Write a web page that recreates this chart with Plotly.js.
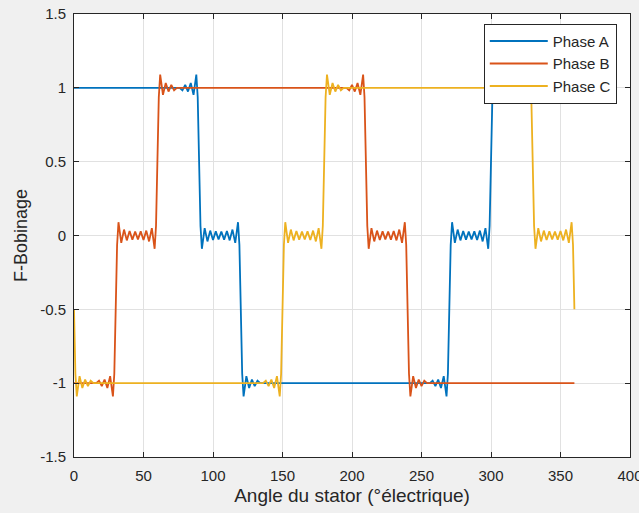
<!DOCTYPE html>
<html>
<head>
<meta charset="utf-8">
<script src="https://cdn.plot.ly/plotly-3.0.1.min.js"></script>
<style>html,body{margin:0;padding:0;background:#f0f0f0;overflow:hidden;}#chart{width:639px;height:513px;}</style>
</head>
<body>
<div id="chart"></div>
<script>
// Phase A (angle in electrical degrees, winding function value)
const angleA = [0, 76,78,80,82,84,86,88,89,90,
  91,92,94,96,98,100,102,104,106,108,110,112,114,116,118,119,120,
  121,122,124,126,128,130,132,134,
  256,258,260,262,264,266,268,269,270,
  271,272,274,276,278,280,282,284,286,288,290,292,294,296,298,299,300,
  301,302,304,306,308,310,312,314,
  360];
const phaseA = [1, 1,0.983,1.02,0.975,1.033,0.952,1.09,0.936,0.5,
  0.064,-0.09,0.05,-0.04,0.033,-0.03,0.028,-0.026,0.026,-0.028,0.03,-0.033,0.04,-0.05,0.09,-0.064,-0.5,
  -0.936,-1.09,-0.952,-1.033,-0.975,-1.02,-0.983,-1,
  -1,-0.983,-1.02,-0.975,-1.033,-0.952,-1.09,-0.936,-0.5,
  -0.064,0.09,-0.05,0.04,-0.033,0.03,-0.028,0.026,-0.026,0.028,-0.03,0.033,-0.04,0.05,-0.09,0.064,0.5,
  0.936,1.09,0.952,1.033,0.975,1.02,0.983,1,
  1];

// Phase B
const angleB = [0, 16,18,20,22,24,26,28,29,30,
  31,32,34,36,38,40,42,44,46,48,50,52,54,56,58,59,60,
  61,62,64,66,68,70,72,74,
  196,198,200,202,204,206,208,209,210,
  211,212,214,216,218,220,222,224,226,228,230,232,234,236,238,239,240,
  241,242,244,246,248,250,252,254,
  360];
const phaseB = [-1, -1,-0.983,-1.02,-0.975,-1.033,-0.952,-1.09,-0.936,-0.5,
  -0.064,0.09,-0.05,0.04,-0.033,0.03,-0.028,0.026,-0.026,0.028,-0.03,0.033,-0.04,0.05,-0.09,0.064,0.5,
  0.936,1.09,0.952,1.033,0.975,1.02,0.983,1,
  1,0.983,1.02,0.975,1.033,0.952,1.09,0.936,0.5,
  0.064,-0.09,0.05,-0.04,0.033,-0.03,0.028,-0.026,0.026,-0.028,0.03,-0.033,0.04,-0.05,0.09,-0.064,-0.5,
  -0.936,-1.09,-0.952,-1.033,-0.975,-1.02,-0.983,-1,
  -1];

// Phase C
const angleC = [0, 1,2,4,6,8,10,12,14,
  136,138,140,142,144,146,148,149,150,
  151,152,154,156,158,160,162,164,166,168,170,172,174,176,178,179,180,
  181,182,184,186,188,190,192,194,
  316,318,320,322,324,326,328,329,330,
  331,332,334,336,338,340,342,344,346,348,350,352,354,356,358,359,360];
const phaseC = [-0.5, -0.936,-1.09,-0.952,-1.033,-0.975,-1.02,-0.983,-1,
  -1,-0.983,-1.02,-0.975,-1.033,-0.952,-1.09,-0.936,-0.5,
  -0.064,0.09,-0.05,0.04,-0.033,0.03,-0.028,0.026,-0.026,0.028,-0.03,0.033,-0.04,0.05,-0.09,0.064,0.5,
  0.936,1.09,0.952,1.033,0.975,1.02,0.983,1,
  1,0.983,1.02,0.975,1.033,0.952,1.09,0.936,0.5,
  0.064,-0.09,0.05,-0.04,0.033,-0.03,0.028,-0.026,0.026,-0.028,0.03,-0.033,0.04,-0.05,0.09,-0.064,-0.5];

const seriesNames = ['Phase A', 'Phase B', 'Phase C'];
const xTickVals = [0, 50, 100, 150, 200, 250, 300, 350, 400];
const xTickText = ['0', '50', '100', '150', '200', '250', '300', '350', '400'];
const yTickVals = [-1.5, -1, -0.5, 0, 0.5, 1, 1.5];
const yTickText = ['-1.5', '-1', '-0.5', '0', '0.5', '1', '1.5'];

const colors = ['#0072BD', '#D95319', '#EDB120'];
const font = 'Liberation Sans, Arial, Helvetica, sans-serif';
const axisColor = '#262626';

const xs = [angleA, angleB, angleC];
const ys = [phaseA, phaseB, phaseC];
const data = seriesNames.map((n, i) => ({
  x: xs[i], y: ys[i], name: n, type: 'scatter', mode: 'lines',
  line: {color: colors[i], width: 1.8}
}));

const axisCommon = {
  ticks: 'inside', ticklen: 5, tickwidth: 1, tickcolor: axisColor,
  showline: true, linecolor: axisColor, linewidth: 1, mirror: 'ticks',
  showgrid: true, gridcolor: '#e1e1e1', gridwidth: 1, zeroline: false,
  tickfont: {family: font, size: 15, color: axisColor}
};

const layout = {
  width: 639, height: 513,
  margin: {l: 74, r: 9, t: 14, b: 56, pad: 0},
  paper_bgcolor: '#f0f0f0', plot_bgcolor: '#ffffff',
  font: {family: font, color: axisColor},
  showlegend: true,
  xaxis: Object.assign({}, axisCommon, {
    range: [0, 400], tickmode: 'array', tickvals: xTickVals, ticktext: xTickText,
    ticklabelstandoff: 5, ticklabeloverflow: 'allow',
    title: {text: 'Angle du stator (°électrique)', font: {family: font, size: 19, color: axisColor}, standoff: 5}
  }),
  yaxis: Object.assign({}, axisCommon, {
    range: [-1.5, 1.5], tickmode: 'array', tickvals: yTickVals, ticktext: yTickText,
    ticklabelstandoff: 4,
    title: {text: 'F-Bobinage', font: {family: font, size: 18, color: axisColor}, standoff: 7}
  }),
  legend: {
    x: 0.737, y: 0.978, xanchor: 'left', yanchor: 'top',
    bgcolor: '#ffffff', bordercolor: axisColor, borderwidth: 1,
    font: {family: font, size: 15, color: axisColor},
    itemwidth: 58, tracegroupgap: 0,
    entrywidth: 60, entrywidthmode: 'pixels'
  }
};

Plotly.newPlot('chart', data, layout, {displayModeBar: false, staticPlot: true});
</script>
</body>
</html>
